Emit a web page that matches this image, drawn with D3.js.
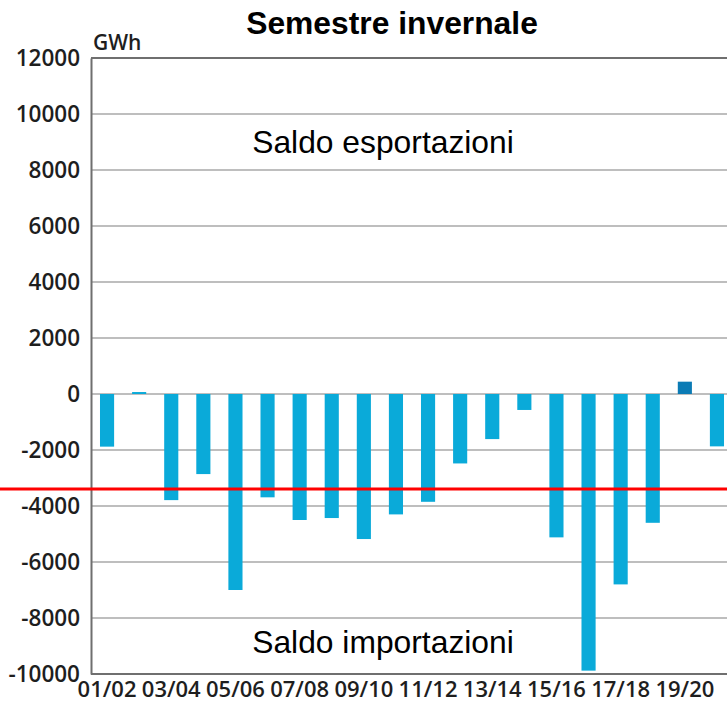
<!DOCTYPE html>
<html>
<head>
<meta charset="utf-8">
<script src="https://cdn.jsdelivr.net/npm/d3@7"></script>
<style>
  body { margin: 0; background: #fff; }
  svg { display: block; }
</style>
</head>
<body>
<div id="chart"></div>
<script>
// saldo import/export per inverno (GWh)
var seasons = ['01/02', '02/03', '03/04', '04/05', '05/06', '06/07', '07/08', '08/09', '09/10', '10/11',
               '11/12', '12/13', '13/14', '14/15', '15/16', '16/17', '17/18', '18/19', '19/20', '20/21'];
var saldo = [-1880, 70, -3790, -2860, -7000, -3690, -4500, -4430, -5180, -4300,
             -3850, -2480, -1610, -570, -5120, -9880, -6800, -4600, 440, -1870];
var yTicks = [-10000, -8000, -6000, -4000, -2000, 0, 2000, 4000, 6000, 8000, 10000, 12000];
var xLabels = ['01/02', '03/04', '05/06', '07/08', '09/10', '11/12', '13/14', '15/16', '17/18', '19/20'];
var refLine = -3390;

var width = 727, height = 710,
	marginLeft = 91, plotTop = 58, plotBottom = 674;

var svg = d3.select('#chart').append('svg')
	.attr('width', width)
	.attr('height', height);

var x = d3.scaleBand()
	.domain(seasons)
	.range([marginLeft, marginLeft + 20 * 32.1])
	.paddingInner(0.56)
	.paddingOuter(0.28);

var y = d3.scaleLinear()
	.domain([-10000, 12000])
	.range([plotBottom, plotTop]);

// griglia
svg.selectAll('.grid')
		.data(yTicks)
	.enter().append('line')
		.attr('x1', marginLeft)
		.attr('x2', width)
		.attr('y1', function(d) { return y(d); })
		.attr('y2', function(d) { return y(d); })
		.attr('stroke', function(d) { return d === 12000 || d === -10000 ? '#6f6f6f' : '#a8a8a8'; })
		.attr('stroke-width', function(d) { return d === 12000 || d === -10000 ? 2 : 1.5; });

// asse y
var yAxis = d3.axisLeft(y)
	.tickValues(yTicks)
	.tickFormat(function(d) { return String(d); })
	.tickSize(0)
	.tickPadding(11);
var gy = svg.append('g')
	.attr('transform', 'translate(' + marginLeft + ',0)')
	.call(yAxis);
gy.select('.domain').attr('stroke', '#6f6f6f').attr('stroke-width', 2);
gy.selectAll('text')
	.attr('font-family', '"Open Sans", sans-serif')
	.attr('font-weight', 600)
	.attr('font-size', '22.5px')
	.attr('fill', '#1e1e1e');

// asse x
var xAxis = d3.axisBottom(x)
	.tickValues(xLabels)
	.tickSize(0)
	.tickPadding(7);
var gx = svg.append('g')
	.attr('transform', 'translate(0,' + plotBottom + ')')
	.call(xAxis);
gx.select('.domain').remove();
gx.selectAll('text')
	.attr('font-family', '"Open Sans", sans-serif')
	.attr('font-weight', 600)
	.attr('font-size', '22px')
	.attr('fill', '#1e1e1e');

// barre
svg.selectAll('.bar')
		.data(saldo)
	.enter().append('rect')
		.attr('x', function(d, i) { return x(seasons[i]); })
		.attr('width', x.bandwidth())
		.attr('y', function(d) { return y(Math.max(0, d)); })
		.attr('height', function(d) { return Math.abs(y(d) - y(0)); })
		.attr('fill', function(d) { return d > 200 ? '#0b7bb5' : '#0aaad9'; });

// linea rossa
svg.append('line')
	.attr('x1', 0)
	.attr('x2', width)
	.attr('y1', y(refLine))
	.attr('y2', y(refLine))
	.attr('stroke', '#ff0000')
	.attr('stroke-width', 3);

// testi
svg.append('text')
	.attr('x', 93)
	.attr('y', 50)
	.attr('font-family', '"Open Sans", sans-serif')
	.attr('font-weight', 600)
	.attr('font-size', '21px')
	.attr('fill', '#1e1e1e')
	.text('GWh');

svg.append('text')
	.attr('x', 392)
	.attr('y', 34)
	.attr('text-anchor', 'middle')
	.attr('font-family', '"Liberation Sans", Arial, sans-serif')
	.attr('font-weight', 'bold')
	.attr('font-size', '31.8px')
	.attr('fill', '#000')
	.text('Semestre invernale');

svg.append('text')
	.attr('x', 383)
	.attr('y', 153)
	.attr('text-anchor', 'middle')
	.attr('font-family', '"Liberation Sans", Arial, sans-serif')
	.attr('font-size', '31.8px')
	.attr('fill', '#000')
	.text('Saldo esportazioni');

svg.append('text')
	.attr('x', 383)
	.attr('y', 653)
	.attr('text-anchor', 'middle')
	.attr('font-family', '"Liberation Sans", Arial, sans-serif')
	.attr('font-size', '31.8px')
	.attr('fill', '#000')
	.text('Saldo importazioni');
</script>
</body>
</html>
